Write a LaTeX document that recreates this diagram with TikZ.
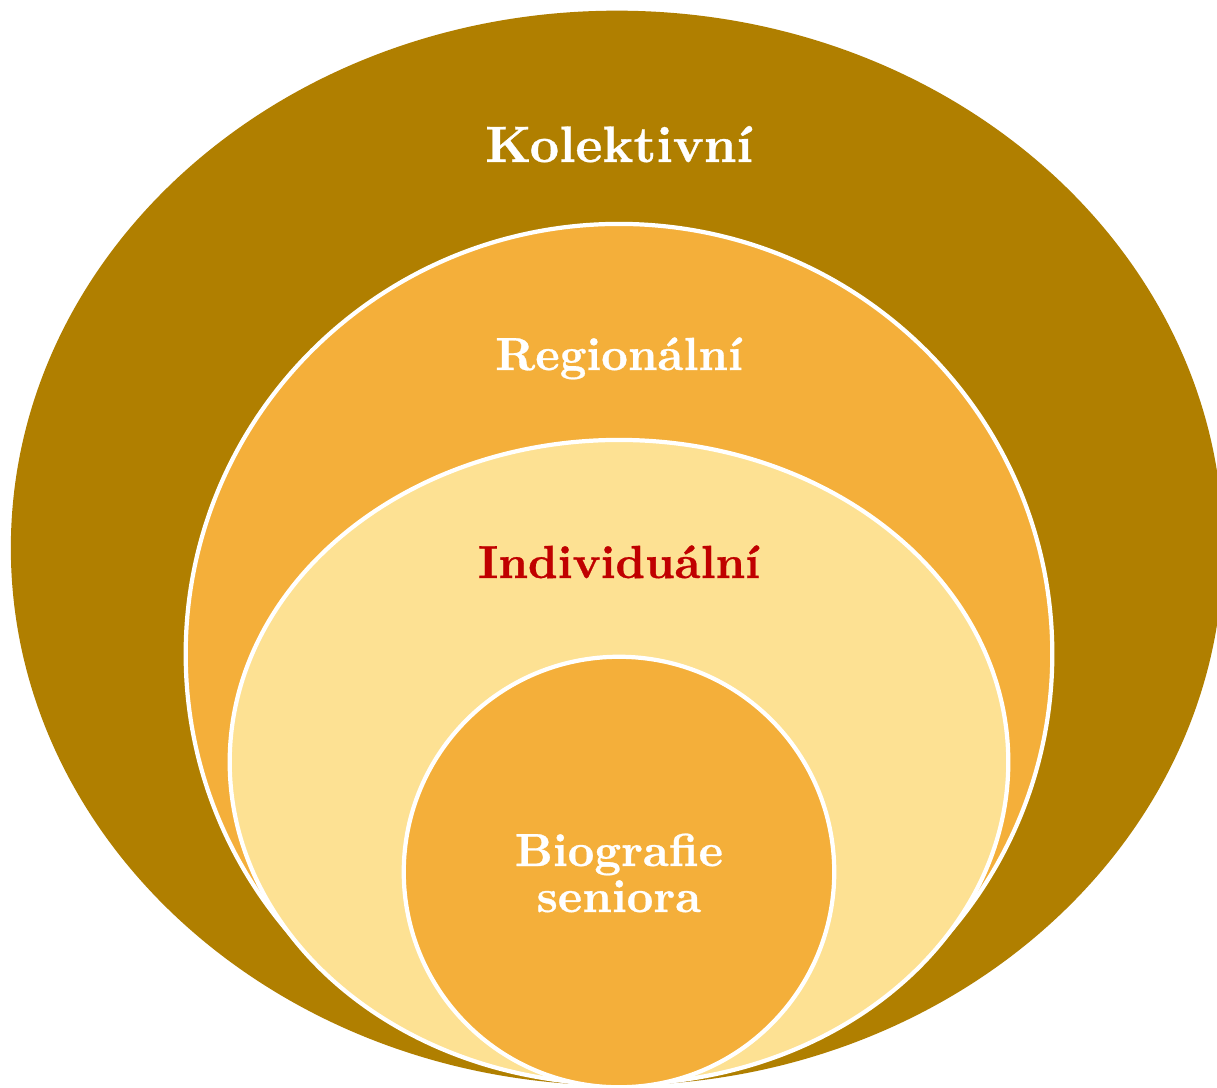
\documentclass[tikz,border=0pt]{standalone}
\usepackage{fontspec}
\newfontfamily\lblfont{lmroman10-bold.otf}[FakeBold=0.6]
\definecolor{cOuter}{HTML}{B07F00}
\definecolor{cMid}{HTML}{F4AF3A}
\definecolor{cLight}{HTML}{FDE193}
\definecolor{cRed}{HTML}{C00000}
\begin{document}
\begin{tikzpicture}[x=0.025cm,y=-0.025cm,
  ring/.style={draw=white,line width=3pt},
  lbl/.style={font=\fontsize{33}{35}\selectfont\lblfont,text=white,anchor=base,inner sep=0pt},
  bigl/.style={lbl,font=\fontsize{36.4}{38}\selectfont\lblfont}]
\useasboundingbox (0,0) rectangle (1217,1087);
\clip (0,0) rectangle (1217,1087);
\fill[white] (0,0) rectangle (1217,1087);
\fill[cOuter] (617,548) ellipse [x radius=15.15cm, y radius=13.43cm];
\filldraw[cMid,ring] (619,654) ellipse [x radius=10.83cm, y radius=10.75cm];
\filldraw[cLight,ring] (619,762) ellipse [x radius=9.73cm, y radius=8.05cm];
\filldraw[cMid,ring] (619,872) ellipse [x radius=5.38cm, y radius=5.38cm];
\node[bigl] (kol) at (619,162) {Kolektivní};
\node[lbl] (reg) at (619,370) {Regionální};
\node[lbl,text=cRed] (ind) at (619,578) {Individuální};
\node[lbl] (bio) at (619,866) {Biografie};
\node[lbl] (sen) at (619,912) {seniora};
\end{tikzpicture}
\end{document}
